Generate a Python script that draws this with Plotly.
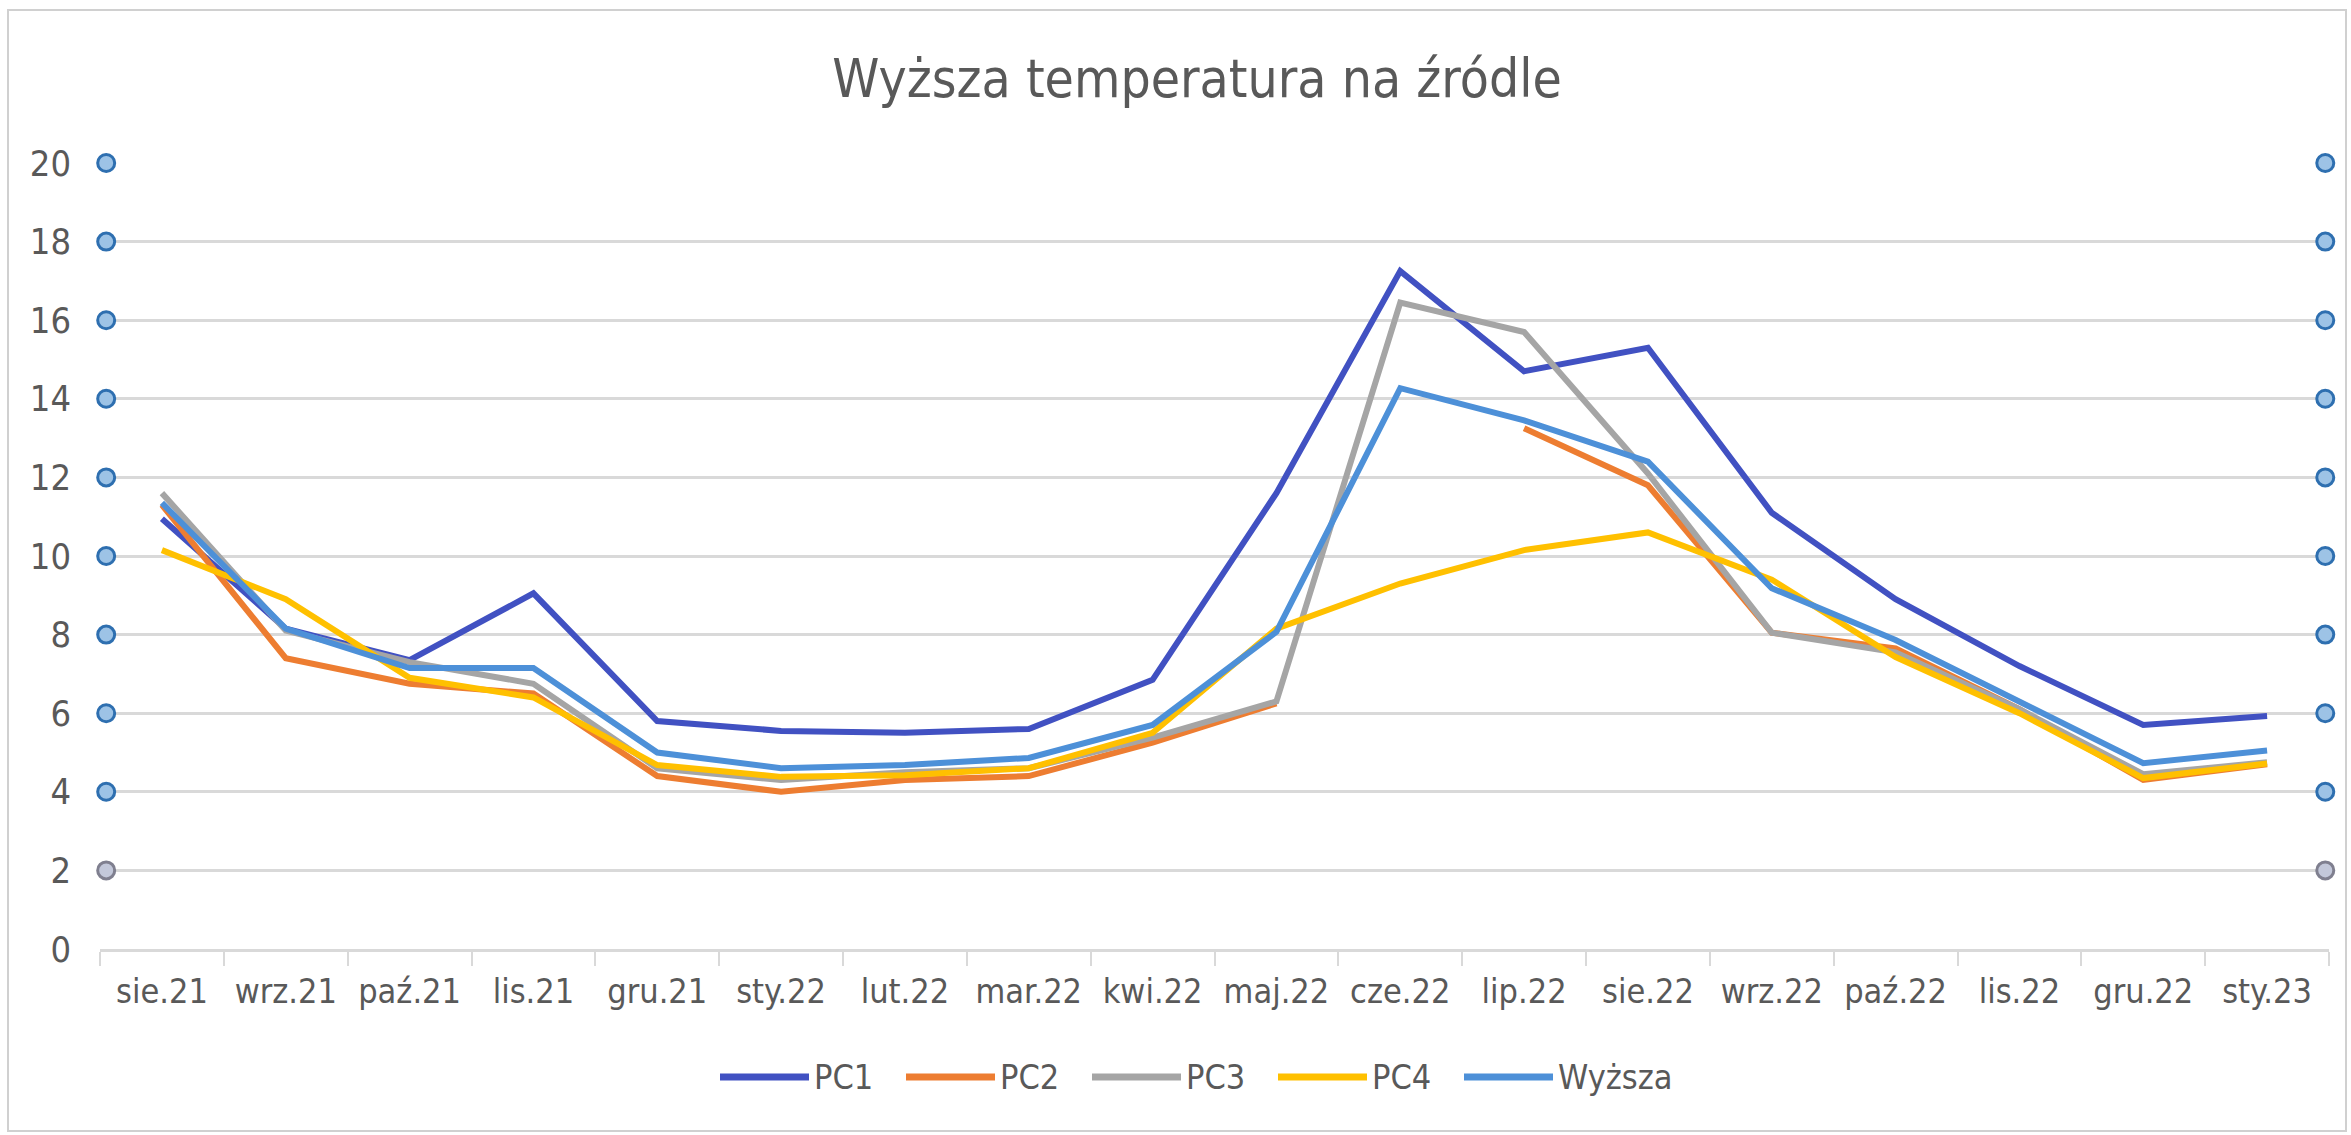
import plotly.graph_objects as go

# ---------------- data ----------------
categories = ["sie.21", "wrz.21", "paź.21", "lis.21", "gru.21", "sty.22", "lut.22", "mar.22", "kwi.22",
              "maj.22", "cze.22", "lip.22", "sie.22", "wrz.22", "paź.22", "lis.22", "gru.22", "sty.23"]
pc1 = [10.95, 8.15, 7.35, 9.05, 5.8, 5.55, 5.5, 5.6, 6.85, 11.6, 17.25, 14.7, 15.3, 11.1, 8.9, 7.2, 5.7, 5.93]
pc2 = [11.3, 7.4, 6.75, 6.5, 4.4, 4.0, 4.3, 4.4, 5.25, 6.25, None, 13.25, 11.8, 8.05, 7.65, 6.1, 4.3, 4.7]
pc3 = [11.6, 8.1, 7.3, 6.75, 4.6, 4.3, 4.5, 4.6, 5.38, 6.3, 16.45, 15.7, 12.1, 8.05, 7.55, 6.1, 4.45, 4.75]
pc4 = [10.15, 8.9, 6.9, 6.4, 4.68, 4.38, 4.42, 4.6, 5.5, 8.15, 9.3, 10.15, 10.6, 9.4, 7.43, 6.0, 4.35, 4.72]
wyzsza = [11.35, 8.15, 7.15, 7.15, 5.0, 4.6, 4.68, 4.86, 5.7, 8.07, 14.27, 13.45, 12.4, 9.18, 7.86, 6.3, 4.73, 5.05]

series_names = ["PC1", "PC2", "PC3", "PC4", "Wyższa"]
series_values = [pc1, pc2, pc3, pc4, wyzsza]
series_colors = ["#4151C2", "#ED7D31", "#A5A5A5", "#FFC000", "#4D90D8"]

y_ticks = [0, 2, 4, 6, 8, 10, 12, 14, 16, 18, 20]
edge_marker_values = [20, 18, 16, 14, 12, 10, 8, 6, 4, 2]

title_text = "Wyższa temperatura na źródle"

# ---------------- layout constants ----------------
W, H = 2351, 1135
L, R, T, B = 100, 22, 163, 186
PW, PH = W - L - R, H - T - B
FONT = "DejaVu Sans Condensed, sans-serif"
TXT = "#595959"
GRID = "#D9D9D9"


def px_x(px):
    return (px - L) / PW


def px_y(py):
    return (H - B - py) / PH


n = len(categories)
xs = list(range(n))

fig = go.Figure()

for name, vals, col in zip(series_names, series_values, series_colors):
    fig.add_trace(go.Scatter(
        x=xs, y=vals, mode="lines", name=name,
        line=dict(color=col, width=6), connectgaps=False, showlegend=False,
    ))

# circular markers at both ends of each gridline
left_x = -0.45
right_x = n - 0.53
fills = ["#9DC3E6" if v > 2 else "#C3C8DA" for v in edge_marker_values]
outlines = ["#2E6FB0" if v > 2 else "#7F7F8F" for v in edge_marker_values]
for ex in (left_x, right_x):
    fig.add_trace(go.Scatter(
        x=[ex] * len(edge_marker_values), y=edge_marker_values, mode="markers",
        marker=dict(size=17, color=fills, line=dict(color=outlines, width=3)),
        cliponaxis=False, showlegend=False, hoverinfo="skip",
    ))

# custom legend (long line swatches like Excel)
shapes = []
annotations = []
leg_y = 1077
leg_x0 = 720
leg_step = 186
leg_len = 89
for i, (name, col) in enumerate(zip(series_names, series_colors)):
    x0 = leg_x0 + i * leg_step
    shapes.append(dict(type="line", xref="paper", yref="paper",
                       x0=px_x(x0), x1=px_x(x0 + leg_len), y0=px_y(leg_y), y1=px_y(leg_y),
                       line=dict(color=col, width=7)))
    annotations.append(dict(xref="paper", yref="paper", x=px_x(x0 + leg_len + 3), y=px_y(leg_y),
                            xanchor="left", yanchor="middle", text=name, showarrow=False,
                            font=dict(family=FONT, size=34, color=TXT)))

# chart border
shapes.append(dict(type="rect", xref="paper", yref="paper",
                   x0=px_x(8), x1=px_x(2346), y0=px_y(1131), y1=px_y(10),
                   line=dict(color="#D0D0D0", width=2), fillcolor="rgba(0,0,0,0)", layer="below"))

fig.update_layout(
    width=W, height=H,
    margin=dict(l=L, r=R, t=T, b=B, pad=0),
    paper_bgcolor="white", plot_bgcolor="white",
    showlegend=False,
    title=dict(text=title_text, x=1197 / W, xref="container", xanchor="center",
               y=1 - 78 / H, yref="container", yanchor="middle",
               font=dict(family=FONT, size=53, color=TXT)),
    shapes=shapes,
    annotations=annotations,
    xaxis=dict(
        range=[-0.5, n - 0.5], tickmode="array", tickvals=xs, ticktext=categories,
        showgrid=False, zeroline=False, ticks="", showline=True, linecolor=GRID, linewidth=2.5,
        tickfont=dict(family=FONT, size=34, color=TXT), ticklabelstandoff=10,
        minor=dict(tickmode="linear", tick0=-0.5, dtick=1, ticks="outside", ticklen=14,
                   tickcolor=GRID, tickwidth=2, showgrid=False),
    ),
    yaxis=dict(
        range=[0, 20], tickmode="array", tickvals=y_ticks, showgrid=True, gridcolor=GRID,
        gridwidth=2.5, zeroline=False, ticks="", showline=False,
        tickfont=dict(family=FONT, size=36, color=TXT), ticklabelstandoff=28,
    ),
)

fig.write_html("out.html", config={"displayModeBar": False},
               post_script="document.body.style.margin='0';document.body.style.overflow='hidden';")
